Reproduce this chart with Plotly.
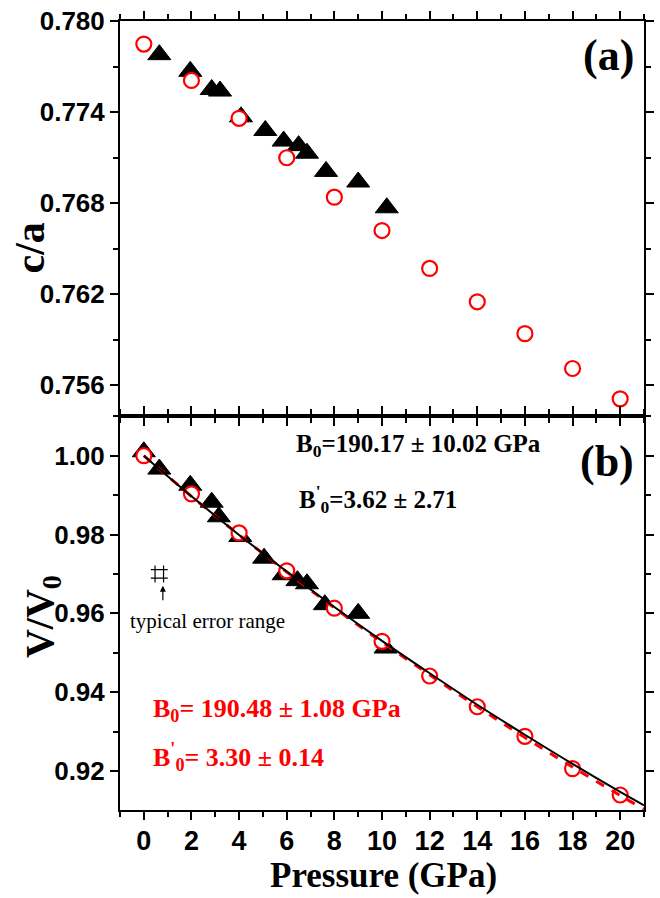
import plotly.graph_objects as go

# ---------------- data ----------------
pressure_circ = [0, 2, 4, 6, 8, 10, 12, 14, 16, 18, 20]
ca_circ = [0.7785, 0.7761, 0.7736, 0.7710, 0.7684, 0.7662, 0.7637, 0.7615, 0.7594, 0.7571, 0.7551]

pressure_tri_a = [0.65, 1.95, 2.85, 3.2, 4.08, 5.1, 5.87, 6.5, 6.85, 7.65, 9.0, 10.2]
ca_tri = [0.7778, 0.7767, 0.7755, 0.7754, 0.7737, 0.7728, 0.7721, 0.7718, 0.7713, 0.7701, 0.7694, 0.7677]

vv0_circ = [1.000, 0.9903, 0.9804, 0.9708, 0.9613, 0.9529, 0.9441, 0.9363, 0.9288, 0.9206, 0.9139]

pressure_tri_b = [0, 0.65, 1.95, 2.85, 3.15, 4.05, 5.05, 5.87, 6.45, 6.85, 7.6, 9.0, 10.15]
vv0_tri = [1.001, 0.9966, 0.9925, 0.9882, 0.9845, 0.9795, 0.9740, 0.9698, 0.9683, 0.9675, 0.9622, 0.9600, 0.9512]

fit_p = [0, 2, 4, 6, 8, 10, 12, 14, 16, 18, 20, 21]
fit_black = [1.0, 0.9897, 0.9799, 0.9706, 0.9616, 0.9530, 0.9448, 0.9368, 0.9292, 0.9218, 0.9147, 0.9113]
fit_red = [1.0, 0.9897, 0.9799, 0.9705, 0.9614, 0.9527, 0.9444, 0.9363, 0.9285, 0.9210, 0.9138, 0.9103]

err_p = [0.65]
err_v = [0.9700]

x_ticks = [0, 2, 4, 6, 8, 10, 12, 14, 16, 18, 20]
ya_ticks = [0.756, 0.762, 0.768, 0.774, 0.780]
yb_ticks = [0.92, 0.94, 0.96, 0.98, 1.00]

# ---------------- figure ----------------
RED = "#ff0000"
fig = go.Figure()

tri_marker = dict(symbol="triangle-up", size=20, color="black", line=dict(color="black", width=1))
circ_marker = dict(symbol="circle", size=15, color="white", line=dict(color=RED, width=2.2))

# panel (a)
fig.add_trace(go.Scatter(x=pressure_tri_a, y=ca_tri, mode="markers", marker=tri_marker,
                         xaxis="x", yaxis="y", showlegend=False))
fig.add_trace(go.Scatter(x=pressure_circ, y=ca_circ, mode="markers", marker=circ_marker,
                         xaxis="x", yaxis="y", showlegend=False))

# panel (b)
fig.add_trace(go.Scatter(x=pressure_tri_b, y=vv0_tri, mode="markers", marker=tri_marker,
                         xaxis="x2", yaxis="y2", showlegend=False))
fig.add_trace(go.Scatter(x=pressure_circ, y=vv0_circ, mode="markers", marker=circ_marker,
                         xaxis="x2", yaxis="y2", showlegend=False))
fig.add_trace(go.Scatter(x=fit_p, y=fit_red, mode="lines", line=dict(color=RED, width=3, dash="dash", shape="spline"),
                         xaxis="x2", yaxis="y2", showlegend=False))
fig.add_trace(go.Scatter(x=fit_p, y=fit_black, mode="lines", line=dict(color="black", width=2, shape="spline"),
                         xaxis="x2", yaxis="y2", showlegend=False))
fig.add_trace(go.Scatter(x=err_p, y=err_v, mode="markers",
                         marker=dict(symbol="hash-open", size=17, color="black", line=dict(color="black", width=1.2)),
                         xaxis="x2", yaxis="y2", showlegend=False))

tickfont_y = dict(family="Liberation Sans", size=26, color="black", weight="bold")
tickfont_x = dict(family="Liberation Sans", size=27, color="black", weight="bold")

common = dict(showline=True, linecolor="black", linewidth=2, mirror="ticks", ticks="outside",
              ticklen=8, tickwidth=1.5, tickcolor="black", showgrid=False, zeroline=False)

fig.update_layout(
    width=660, height=898,
    margin=dict(l=120, r=6, t=16, b=88),
    paper_bgcolor="white", plot_bgcolor="white",
    xaxis=dict(domain=[0, 1], anchor="y", range=[-1, 21], tickvals=x_ticks, showticklabels=False,
               minor=dict(dtick=1, tick0=0, ticks="outside", ticklen=5, tickwidth=1.5, tickcolor="black"),
               **common),
    yaxis=dict(domain=[0.5, 1], anchor="x", range=[0.7540, 0.78002], tickvals=ya_ticks,
               ticktext=[f"{v:.3f}" for v in ya_ticks], tickfont=tickfont_y,
               minor=dict(dtick=0.003, tick0=0.756, ticks="outside", ticklen=5, tickwidth=1.5, tickcolor="black"),
               **common),
    xaxis2=dict(domain=[0, 1], anchor="y2", range=[-1, 21], tickvals=x_ticks, tickfont=tickfont_x,
                ticklabelstandoff=-2,
                minor=dict(dtick=1, tick0=0, ticks="outside", ticklen=5, tickwidth=1.5, tickcolor="black"),
                **common),
    yaxis2=dict(domain=[0, 0.5], anchor="x2", range=[0.9101, 1.0102], tickvals=yb_ticks,
                ticktext=[f"{v:.2f}" for v in yb_ticks], tickfont=tickfont_y,
                minor=dict(dtick=0.01, tick0=0.92, ticks="outside", ticklen=5, tickwidth=1.5, tickcolor="black"),
                **common),
)

serif = "Liberation Serif"
ann = []
# axis titles
ann.append(dict(text="<b>c/a</b>", x=-0.172, y=0.7128, xref="paper", yref="paper", textangle=-90,
                showarrow=False, font=dict(family=serif, size=42, color="black"), xanchor="center", yanchor="middle"))
ann.append(dict(text="<b>V/V<sub>0</sub></b>", x=-0.150, y=0.245, xref="paper", yref="paper", textangle=-90,
                showarrow=False, font=dict(family=serif, size=40, color="black"), xanchor="center", yanchor="middle"))
ann.append(dict(text="<b>Pressure (GPa)</b>", x=0.5037, y=-0.1105, xref="paper", yref="paper",
                showarrow=False, font=dict(family=serif, size=35, color="black"), xanchor="center", yanchor="bottom"))
# panel labels
ann.append(dict(text="<b>(a)</b>", x=0.9326, y=0.9559, xref="paper", yref="paper", showarrow=False,
                font=dict(family=serif, size=44, color="black"), xanchor="center", yanchor="middle"))
ann.append(dict(text="<b>(b)</b>", x=0.929, y=0.442, xref="paper", yref="paper", showarrow=False,
                font=dict(family=serif, size=44, color="black"), xanchor="center", yanchor="middle"))
# fit results
ann.append(dict(text="<b>B<sub>0</sub>=190.17 ± 10.02 GPa</b>", x=0.3315, y=0.4622, xref="paper", yref="paper",
                showarrow=False, font=dict(family=serif, size=25, color="black"), xanchor="left", yanchor="middle"))
ann.append(dict(text="<b>B<sup>'</sup><sub>0</sub>=3.62 ± 2.71</b>", x=0.337, y=0.394, xref="paper", yref="paper",
                showarrow=False, font=dict(family=serif, size=25, color="black"), xanchor="left", yanchor="middle"))
ann.append(dict(text="<b>B<sub>0</sub>= 190.48 ± 1.08 GPa</b>", x=0.060, y=0.127, xref="paper", yref="paper",
                showarrow=False, font=dict(family=serif, size=26, color=RED), xanchor="left", yanchor="middle"))
ann.append(dict(text="<b>B<sup>'</sup><sub>0</sub>= 3.30 ± 0.14</b>", x=0.060, y=0.0668, xref="paper", yref="paper",
                showarrow=False, font=dict(family=serif, size=26, color=RED), xanchor="left", yanchor="middle"))
# error range note
ann.append(dict(text="typical error range", x=0.015, y=0.2393, xref="paper", yref="paper",
                showarrow=False, font=dict(family=serif, size=21, color="black"), xanchor="left", yanchor="middle"))
ann.append(dict(text="", x=0.8, y=0.9670, xref="x2", yref="y2", ax=0, ay=16, showarrow=True,
                arrowhead=2, arrowsize=1, arrowwidth=1.2, arrowcolor="black"))

fig.update_layout(annotations=ann)

fig.write_html("out.html")
